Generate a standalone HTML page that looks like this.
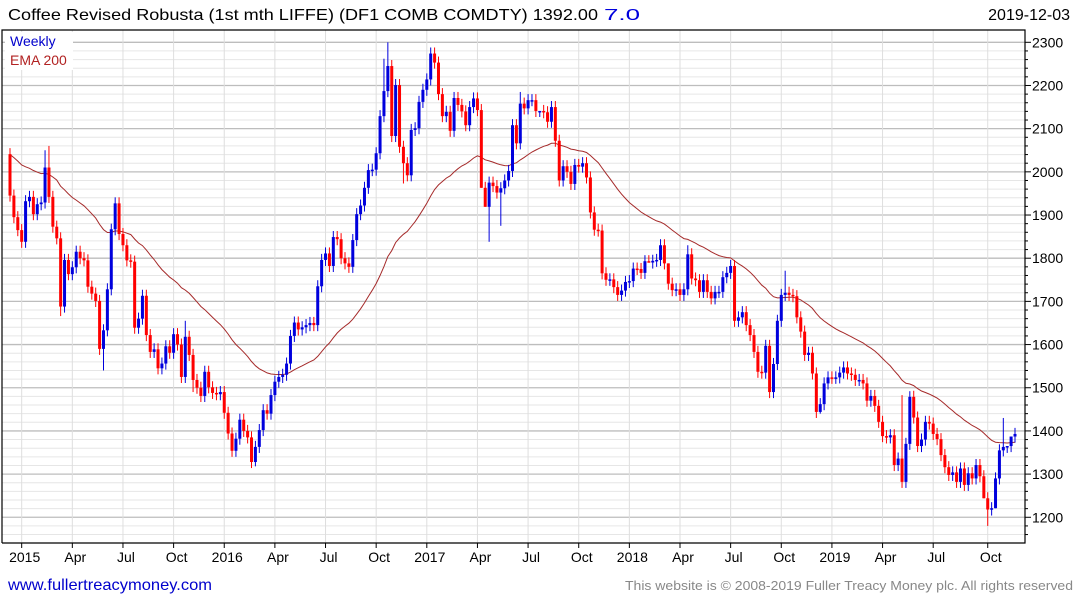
<!DOCTYPE html>
<html><head><meta charset="utf-8"><style>
html,body{margin:0;padding:0;background:#fff;}
svg{display:block;font-family:"Liberation Sans","DejaVu Sans",sans-serif;}
</style></head><body>
<svg id="chart" width="1075" height="600" viewBox="0 0 1075 600" xmlns="http://www.w3.org/2000/svg">
<rect x="0" y="0" width="1075" height="600" fill="#fff"/>
<g id="grid"></g>
<g id="ema"></g>
<g id="candles"></g>
<g id="axes"></g>
<text x="8" y="20" font-size="16" textLength="590" lengthAdjust="spacingAndGlyphs" fill="#000">Coffee Revised Robusta (1st mth LIFFE) (DF1 COMB COMDTY) 1392.00</text>
<text x="604" y="20" font-size="16" textLength="36" lengthAdjust="spacingAndGlyphs" fill="#0000dd">7.0</text>
<text x="1070" y="20" font-size="16" text-anchor="end" fill="#000">2019-12-03</text>
<rect x="5" y="32" width="68" height="38" fill="#fff"/>
<text x="10" y="46" font-size="14" fill="#0000cc">Weekly</text>
<text x="10" y="65" font-size="14" fill="#b22222">EMA 200</text>
<text x="8" y="590" font-size="16" textLength="204" lengthAdjust="spacingAndGlyphs" fill="#0000cc">www.fullertreacymoney.com</text>
<text x="625" y="590" font-size="13" textLength="448" lengthAdjust="spacingAndGlyphs" fill="#888">This website is © 2008-2019 Fuller Treacy Money plc. All rights reserved</text>
</svg>
<script>
const closes = [
1945,1895,1865,1838,1932,1942,1902,1925,1929,2010,1942,1873,1846,1688,1796,1763,1779,1815,1800,1795,1734,1718,1701,1590,1633,1728,1867,1927,1856,1830,1795,1792,1639,1660,1713,1622,1583,1589,1545,1556,1596,1581,1624,1600,1525,1618,1576,1518,1500,1481,1537,1501,1488,1485,1490,1442,1394,1354,1382,1426,1400,1385,1328,1363,1402,1448,1440,1483,1514,1525,1530,1556,1620,1651,1635,1640,1645,1650,1645,1735,1796,1811,1782,1849,1844,1800,
1788,1780,1842,1902,1922,1963,2004,2005,2043,2129,2187,2245,2083,2201,2058,2020,1992,2097,2101,2162,2190,2214,2274,2253,2180,2129,2139,2095,2171,2155,2140,2108,2150,2170,2143,1963,1919,1975,1967,1952,1962,1980,2002,2108,2066,2158,2147,2166,2166,2141,2141,2138,2116,2150,2072,1980,2013,2000,1972,2016,2012,2020,1987,1906,1866,1864,1765,1750,1751,1733,1715,1725,1745,1747,1776,1775,1766,1793,1790,1794,1796,1830,1788,1741,1726,1728,1715,
1728,1809,1753,1749,1722,1749,1722,1707,1722,1722,1756,1766,1782,1655,1663,1675,1645,1622,1583,1537,1535,1597,1490,1555,1655,1715,1720,1715,1712,1663,1630,1576,1581,1533,1444,1462,1510,1524,1523,1524,1535,1547,1533,1530,1518,1518,1510,1470,1481,1458,1421,1388,1385,1390,1321,1336,1282,1370,1479,1431,1365,1380,1421,1417,1393,1381,1344,1316,1298,1304,1282,1313,1275,1302,1290,1321,1295,1244,1218,1221,1290,1355,1363,1365,1387,1393
];
const firstOpen = 2041;
const highSpikes = [[9,2050],[10,2060],[26,1880],[45,1655],[96,2262],[97,2300],[136,2130],[131,2185],[174,1830],[199,1771],[169,1760],[229,1483],[231,1492],[256,1360],[257,1342],[255,1430]];
const lowSpikes = [[13,1666],[24,1540],[47,1490],[63,1318],[101,1973],[121,2060],[122,1920],[123,1838],[126,1875],[164,1855],[208,1440],[250,1370],[251,1180],[253,1252]];
const yTicks = [1200,1300,1400,1500,1600,1700,1800,1900,2000,2100,2200,2300];
const xLabels = ["2015","Apr","Jul","Oct","2016","Apr","Jul","Oct","2017","Apr","Jul","Oct","2018","Apr","Jul","Oct","2019","Apr","Jul","Oct"];
const xLabelWeek = [3,16,29,42,55,68,81,94,107,120,133,146,159,172,185,198,211,224,237,251];
const emaPeriod = 40;
const emaSeed = 2045;

const NS="http://www.w3.org/2000/svg";
const L=2,R=1025,T=30,B=543;
const x0=10,x1=1015;
function xs(i){return x0+i*(x1-x0)/(closes.length-1);}
function ys(v){return 42.3+(2300-v)*0.4318;}
function mk(tag,attrs,parent){const e=document.createElementNS(NS,tag);for(const k in attrs)e.setAttribute(k,attrs[k]);parent.appendChild(e);return e;}
const grid=document.getElementById('grid'),axes=document.getElementById('axes'),cg=document.getElementById('candles'),eg=document.getElementById('ema');

for(let v=1140;v<=2300;v+=20){
  if(ys(v)<T||ys(v)>B)continue;
  const major=v%100===0;
  const ln=mk('line',{x1:L,x2:R,y1:ys(v),y2:ys(v),stroke:major?'#bdbdbd':'#e6e6e6','stroke-width':major?1.3:1},grid);
  
  
  const tk=mk('line',{x1:R,x2:R+(major?6:3),y1:ys(v),y2:ys(v),stroke:'#000','stroke-width':1},axes);
  
  
}
yTicks.forEach(v=>{
  const t=mk('text',{x:1032,y:ys(v)+5,'font-size':14,fill:'#000'},axes);
  t.textContent=v;
  
  
});
xLabelWeek.forEach((w,j)=>{
  const x=xs(w);
  const gl=mk('line',{x1:x,x2:x,y1:T,y2:B,stroke:'#dedede','stroke-width':1},grid);
  
  
  const tk=mk('line',{x1:x,x2:x,y1:B,y2:B+5,stroke:'#000'},axes);
  
  
  const t=mk('text',{x:x+3,y:562,'font-size':14,'text-anchor':'middle',fill:'#000'},axes);
  t.textContent=xLabels[j];
  
  
});
const frame=mk('path',{d:`M${L} ${B} L${L} ${T} L${R} ${T} L${R} ${B} L${L} ${B}`,fill:'none',stroke:'#000','stroke-width':1.2},axes);



let e=emaSeed,k=2/(emaPeriod+1),pts=[];
closes.forEach((c,i)=>{e=e+(c-e)*k;pts.push(xs(i).toFixed(1)+','+ys(e).toFixed(1));});
const pl=mk('polyline',{points:pts.join(' '),fill:'none',stroke:'#a52a2a','stroke-width':1},eg);



const hs={},ls={};highSpikes.forEach(p=>hs[p[0]]=p[1]);lowSpikes.forEach(p=>ls[p[0]]=p[1]);
closes.forEach((c,i)=>{
  const o=i===0?firstOpen:closes[i-1];
  const up=c>=o;
  const col=up?'#0000dd':'#ff0000';
  const top=Math.max(o,c),bot=Math.min(o,c);
  const hi=hs[i]!==undefined?Math.max(hs[i],top):top+14;
  const lo=ls[i]!==undefined?Math.min(ls[i],bot):bot-14;
  const x=xs(i);
  const w=mk('line',{x1:x,x2:x,y1:ys(hi),y2:ys(lo),stroke:col,'stroke-width':1},cg);
  
  
  const h=Math.max(1.5,ys(bot)-ys(top));
  const r=mk('rect',{x:x-1.5,y:ys(top),width:3,height:h,fill:col},cg);
  
  
});
</script>
</body></html>
